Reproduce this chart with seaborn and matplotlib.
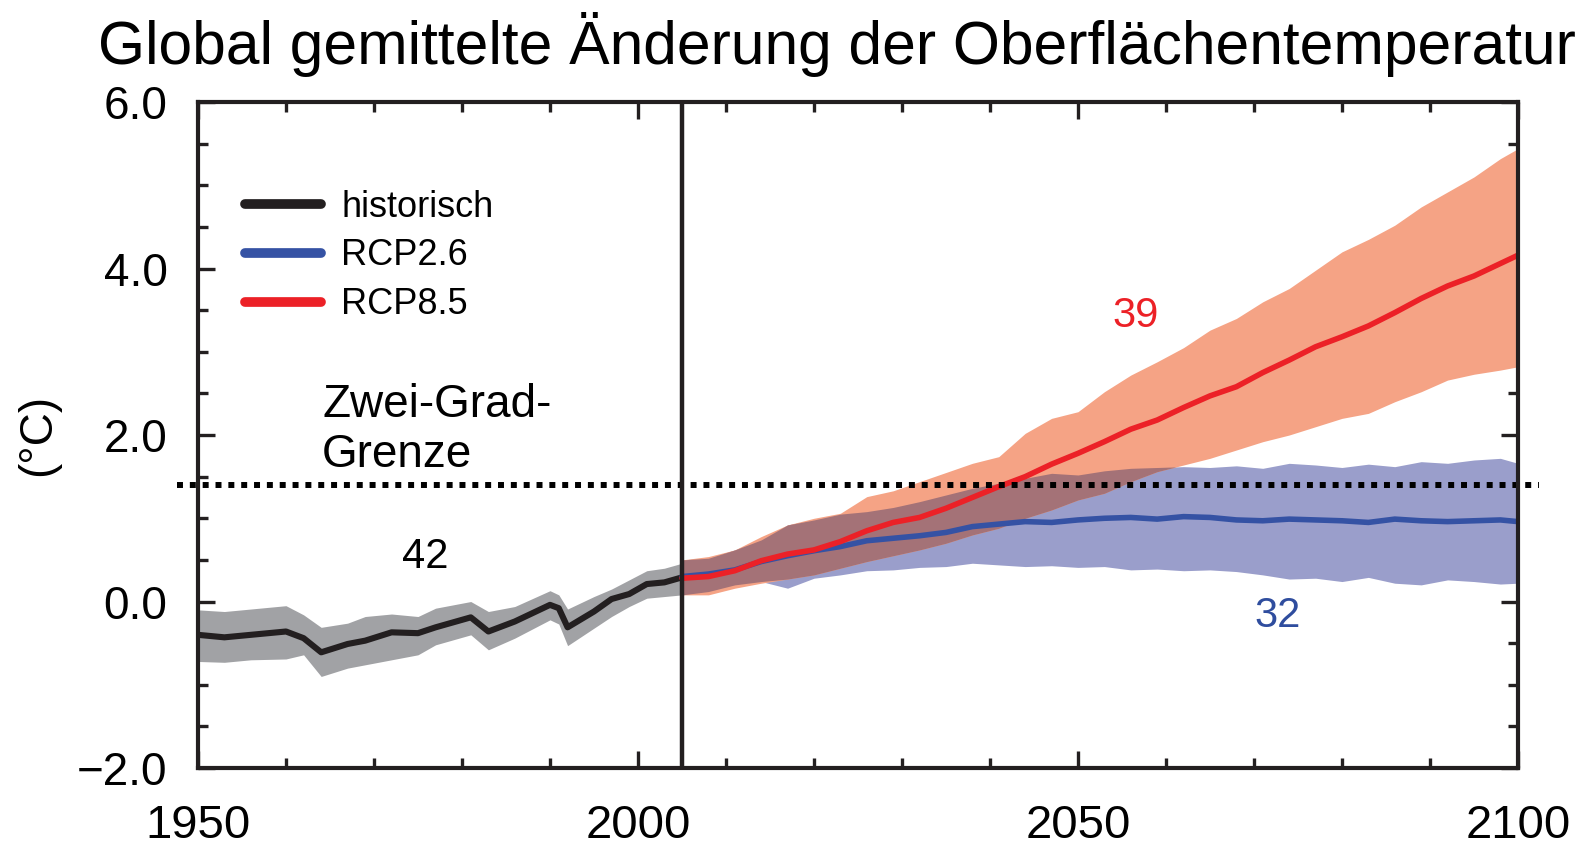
import numpy as np
import pandas as pd
import matplotlib.pyplot as plt
import seaborn as sns
from matplotlib.ticker import MultipleLocator, FuncFormatter

# Historical simulations (multi-model mean and range)
hist_years = [1950, 1953, 1956, 1960, 1962, 1964, 1967, 1969, 1972, 1975, 1977,
              1981, 1983, 1986, 1990, 1991, 1992, 1995, 1997, 1999, 2001, 2003, 2005]
hist_mean = [-0.40, -0.43, -0.40, -0.36, -0.44, -0.61, -0.51, -0.47, -0.37, -0.38, -0.31,
             -0.19, -0.36, -0.24, -0.04, -0.08, -0.31, -0.12, 0.03, 0.09, 0.21, 0.23, 0.29]
hist_upper = [-0.10, -0.12, -0.09, -0.05, -0.16, -0.31, -0.26, -0.18, -0.15, -0.18, -0.08,
              0.00, -0.12, -0.06, 0.13, 0.08, -0.09, 0.06, 0.15, 0.26, 0.37, 0.40, 0.46]
hist_lower = [-0.72, -0.73, -0.70, -0.69, -0.64, -0.90, -0.80, -0.76, -0.70, -0.64, -0.52,
              -0.40, -0.58, -0.44, -0.22, -0.27, -0.53, -0.32, -0.18, -0.06, 0.04, 0.06, 0.08]

# Scenario projections
rcp_years = [2005, 2008, 2011, 2014, 2017, 2020, 2023, 2026, 2029, 2032, 2035,
             2038, 2041, 2044, 2047, 2050, 2053, 2056, 2059, 2062, 2065, 2068,
             2071, 2074, 2077, 2080, 2083, 2086, 2089, 2092, 2095, 2098, 2100]
rcp85_mean = [0.28, 0.30, 0.37, 0.49, 0.57, 0.62, 0.72, 0.85, 0.95, 1.01, 1.12,
              1.25, 1.38, 1.50, 1.65, 1.78, 1.92, 2.07, 2.18, 2.33, 2.47, 2.58,
              2.75, 2.90, 3.06, 3.18, 3.31, 3.47, 3.64, 3.79, 3.91, 4.06, 4.16]
rcp85_upper = [0.50, 0.54, 0.62, 0.78, 0.92, 1.00, 1.06, 1.26, 1.33, 1.44, 1.55,
               1.66, 1.74, 2.02, 2.20, 2.28, 2.52, 2.72, 2.88, 3.05, 3.26, 3.40,
               3.60, 3.76, 3.98, 4.20, 4.35, 4.52, 4.74, 4.92, 5.10, 5.32, 5.44]
rcp85_lower = [0.08, 0.08, 0.16, 0.22, 0.27, 0.32, 0.40, 0.48, 0.55, 0.62, 0.70,
               0.80, 0.88, 1.00, 1.10, 1.22, 1.30, 1.44, 1.56, 1.64, 1.72, 1.82,
               1.92, 2.00, 2.10, 2.20, 2.26, 2.40, 2.52, 2.66, 2.73, 2.78, 2.82]
rcp26_mean = [0.30, 0.33, 0.38, 0.48, 0.55, 0.61, 0.66, 0.73, 0.76, 0.79, 0.83,
              0.90, 0.93, 0.96, 0.95, 0.98, 1.00, 1.01, 0.99, 1.02, 1.01, 0.98,
              0.97, 0.99, 0.98, 0.97, 0.95, 0.99, 0.97, 0.96, 0.97, 0.98, 0.96]
rcp26_upper = [0.50, 0.52, 0.62, 0.74, 0.92, 0.98, 1.05, 1.08, 1.13, 1.20, 1.28,
               1.36, 1.42, 1.48, 1.54, 1.52, 1.57, 1.60, 1.61, 1.62, 1.61, 1.63,
               1.60, 1.66, 1.64, 1.61, 1.65, 1.62, 1.68, 1.66, 1.70, 1.72, 1.66]
rcp26_lower = [0.08, 0.12, 0.20, 0.24, 0.16, 0.28, 0.32, 0.37, 0.38, 0.41, 0.42,
               0.46, 0.44, 0.42, 0.43, 0.41, 0.42, 0.38, 0.39, 0.37, 0.38, 0.36,
               0.32, 0.27, 0.28, 0.24, 0.29, 0.22, 0.20, 0.26, 0.24, 0.21, 0.22]

two_degree_limit = 1.4
model_counts = {'historisch': 42, 'RCP8.5': 39, 'RCP2.6': 32}

# Colours
BLACK = '#231f20'
BLUE = '#3552a4'
RED = '#ec2127'
GREY_BAND = '#a1a2a5'
BLUE_BAND = '#9a9ecb'
RED_BAND = '#f5a385'
OVERLAP_BAND = '#a47277'

sns.set_style('ticks')
plt.rcParams['font.family'] = ['Liberation Sans', 'DejaVu Sans']
plt.rcParams['text.color'] = 'black'
plt.rcParams['axes.labelcolor'] = 'black'
plt.rcParams['xtick.labelcolor'] = 'black'
plt.rcParams['ytick.labelcolor'] = 'black'

hist = pd.DataFrame({'year': hist_years, 'mean': hist_mean,
                     'lo': hist_lower, 'hi': hist_upper})
r26 = pd.DataFrame({'year': rcp_years, 'mean': rcp26_mean,
                    'lo': rcp26_lower, 'hi': rcp26_upper})
r85 = pd.DataFrame({'year': rcp_years, 'mean': rcp85_mean,
                    'lo': rcp85_lower, 'hi': rcp85_upper})

fig = plt.figure(figsize=(15.89, 8.48), dpi=100)
ax = fig.add_axes([0.1246, 0.0943, 0.8307, 0.7854])

# Uncertainty ranges
ax.fill_between(r26['year'], r26['lo'], r26['hi'], color=BLUE_BAND, lw=0)
ax.fill_between(r85['year'], r85['lo'], r85['hi'], color=RED_BAND, lw=0)
ov_lo = np.maximum(r26['lo'], r85['lo'])
ov_hi = np.minimum(r26['hi'], r85['hi'])
ax.fill_between(r85['year'], ov_lo, ov_hi, where=ov_hi > ov_lo,
                interpolate=True, color=OVERLAP_BAND, lw=0)
ax.fill_between(hist['year'], hist['lo'], hist['hi'], color=GREY_BAND, lw=0)

# Mean curves
sns.lineplot(data=hist, x='year', y='mean', color=BLACK, lw=4.4,
             label='historisch', ax=ax)
sns.lineplot(data=r26, x='year', y='mean', color=BLUE, lw=4,
             label='RCP2.6', ax=ax)
sns.lineplot(data=r85, x='year', y='mean', color=RED, lw=4,
             label='RCP8.5', ax=ax)

# Two degree limit and start of projections
ax.axhline(two_degree_limit, xmin=-0.016, xmax=1.016, clip_on=False,
           color='black', lw=4.3, linestyle=(0, (1, 1.15)), dash_capstyle='butt')
ax.axvline(hist_years[-1], color=BLACK, lw=3.2)

ax.text(1964.1, 2.06, 'Zwei-Grad-\nGrenze', fontsize=33, ha='left', va='center',
        color='black')
ax.text(1975.8, 0.53, str(model_counts['historisch']), fontsize=30,
        ha='center', va='center', color='black')
ax.text(2056.6, 3.43, str(model_counts['RCP8.5']), fontsize=30,
        ha='center', va='center', color=RED)
ax.text(2072.7, -0.17, str(model_counts['RCP2.6']), fontsize=30,
        ha='center', va='center', color='#2f4d9e')

# Axes
ax.set_xlim(1950, 2100)
ax.set_ylim(-2, 6)
ax.xaxis.set_major_locator(MultipleLocator(50))
ax.xaxis.set_minor_locator(MultipleLocator(10))
ax.yaxis.set_major_locator(MultipleLocator(2))
ax.yaxis.set_minor_locator(MultipleLocator(0.5))
ax.yaxis.set_major_formatter(FuncFormatter(lambda v, p: f'{v:.1f}'.replace('-', '\u2212')))
ax.tick_params(which='both', direction='in', top=True, right=True,
               width=2.4, color=BLACK)
ax.tick_params(which='major', length=12)
ax.tick_params(which='minor', length=7)
ax.tick_params(axis='x', which='major', labelsize=34, pad=26)
ax.tick_params(axis='y', which='major', labelsize=33, pad=22)
for s in ax.spines.values():
    s.set_linewidth(3)
    s.set_color(BLACK)

ax.set_xlabel('')
ax.set_ylabel('(°C)', fontsize=33, labelpad=12)

leg = ax.legend(loc='upper left', bbox_to_anchor=(0.025, 0.89), frameon=False,
                fontsize=26, handlelength=2.1, handletextpad=0.55,
                labelspacing=0.38, borderaxespad=0)
for h in leg.get_lines():
    h.set_linewidth(7)
    h.set_solid_capstyle('round')

fig.text(98 / 1589, 1 - 12 / 848, 'Global gemittelte Änderung der Oberflächentemperatur',
         fontsize=43.6, ha='left', va='top')

fig.savefig('out.png', dpi=100)
